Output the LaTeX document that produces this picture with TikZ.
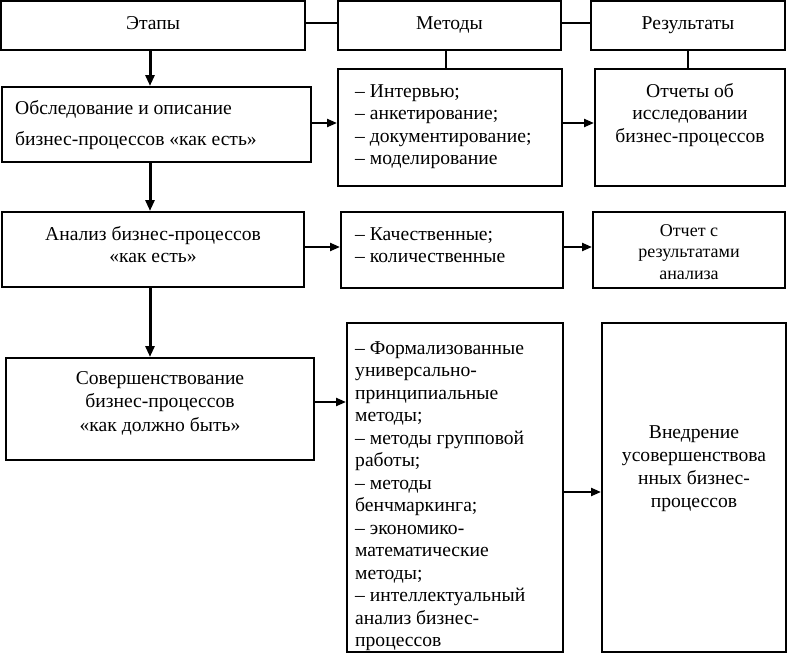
\documentclass[tikz,border=0pt]{standalone}
\usepackage{fontspec}
\setmainfont{Liberation Serif}
\usetikzlibrary{arrows.meta}
\begin{document}
\begin{tikzpicture}[x=1pt,y=-1pt,
  box/.style={draw, line width=2pt, inner sep=0pt},
  txt/.style={inner sep=0pt, font=\fontsize{19.6}{22.6}\selectfont},
  smalltxt/.style={inner sep=0pt, font=\fontsize{18}{21.5}\selectfont},
  link/.style={line width=2pt},
  arr/.style={line width=2.2pt, -{Triangle[length=10pt,width=8pt]}},
  varr/.style={line width=3pt, -{Triangle[length=11pt,width=9pt]}}]
\useasboundingbox (0,0) rectangle (787,664);
% boxes
\node[box, minimum width=304pt, minimum height=49pt] (B1) at (153,25.5) {};
\node[box, minimum width=223pt, minimum height=49pt] (B2) at (449.5,25.5) {};
\node[box, minimum width=194pt, minimum height=49pt] (B3) at (688,25.5) {};
\node[box, minimum width=309pt, minimum height=75pt] (S1) at (156.5,124.5) {};
\node[box, minimum width=224pt, minimum height=117pt] (M1) at (450,127.5) {};
\node[box, minimum width=190pt, minimum height=117pt] (R1) at (690,127.5) {};
\node[box, minimum width=302pt, minimum height=75pt] (S2) at (153,249.5) {};
\node[box, minimum width=222pt, minimum height=76pt] (M2) at (452,250) {};
\node[box, minimum width=192pt, minimum height=76pt] (R2) at (689,250) {};
\node[box, minimum width=308pt, minimum height=102pt] (S3) at (160,409) {};
\node[box, minimum width=216pt, minimum height=329pt] (M3) at (455,487.5) {};
\node[box, minimum width=184pt, minimum height=329pt] (R3) at (694,487.5) {};
% texts
\node[txt, anchor=base] (tB1) at (153,29) {Этапы};
\node[txt, anchor=base] (tB2) at (449.5,29) {Методы};
\node[txt, anchor=base] (tB3) at (688,29) {Результаты};
\node[txt, anchor=north west, align=left, font=\fontsize{19.6}{31}\selectfont] (tS1) at (15,100)
  {Обследование и описание\\бизнес-процессов «как есть»};
\node[txt, anchor=north west, align=left] (tM1) at (355,84)
  {– Интервью;\\– анкетирование;\\– документирование;\\– моделирование};
\node[txt, anchor=north, align=center] (tR1) at (690,83)
  {Отчеты об\\исследовании\\бизнес-процессов};
\node[txt, anchor=north, align=center, font=\fontsize{19.6}{22}\selectfont] (tS2) at (153,226)
  {Анализ бизнес-процессов\\«как есть»};
\node[txt, anchor=north west, align=left, font=\fontsize{19.6}{22}\selectfont] (tM2) at (355,227)
  {– Качественные;\\– количественные};
\node[smalltxt, anchor=north, align=center] (tR2) at (689,224)
  {Отчет с\\результатами\\анализа};
\node[txt, anchor=north, align=center, font=\fontsize{19.6}{23.5}\selectfont] (tS3) at (160,371)
  {Совершенствование\\бизнес-процессов\\«как должно быть»};
\node[txt, anchor=north west, align=left, font=\fontsize{19.6}{22.5}\selectfont] (tM3) at (355,341)
  {– Формализованные\\универсально-\\принципиальные\\методы;\\– методы групповой\\работы;\\– методы\\бенчмаркинга;\\– экономико-\\математические\\методы;\\– интеллектуальный\\анализ бизнес-\\процессов};
\node[txt, anchor=north, align=center, font=\fontsize{19.6}{23}\selectfont] (tR3) at (694,425)
  {Внедрение\\усовершенствова\\нных бизнес-\\процессов};
% helper coordinates
\coordinate (xa) at (150,0);
\coordinate (xm) at (446,0);
\coordinate (xr) at (688,0);
\coordinate (ya) at (0,23);
\coordinate (y1) at (0,123);
\coordinate (y2) at (0,247);
\coordinate (y3) at (0,402);
\coordinate (y4) at (0,492);
% connectors
\draw[link] (B1.east |- ya) -- (B2.west |- ya);
\draw[link] (B2.east |- ya) -- (B3.west |- ya);
\draw[link] (B2.south -| xm) -- (M1.north -| xm);
\draw[link] (B3.south -| xr) -- (R1.north -| xr);
\draw[varr] (B1.south -| xa) -- (S1.north -| xa);
\draw[varr] (S1.south -| xa) -- (S2.north -| xa);
\draw[varr] (S2.south -| xa) -- (S3.north -| xa);
\draw[arr] (S1.east |- y1) -- (M1.west |- y1);
\draw[arr] (M1.east |- y1) -- (R1.west |- y1);
\draw[arr] (S2.east |- y2) -- (M2.west |- y2);
\draw[arr] (M2.east |- y2) -- (R2.west |- y2);
\draw[arr] (S3.east |- y3) -- (M3.west |- y3);
\draw[arr] (M3.east |- y4) -- (R3.west |- y4);
\end{tikzpicture}
\end{document}
